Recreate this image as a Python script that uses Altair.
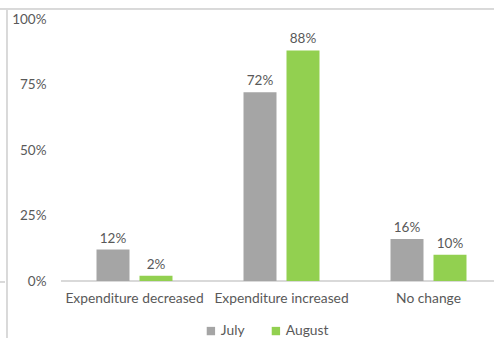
import altair as alt
import pandas as pd

categories = ["Expenditure decreased", "Expenditure increased", "No change"]
july = [0.12, 0.72, 0.16]
august = [0.02, 0.88, 0.10]
series = ["July", "August"]
colors = ["#a5a5a5", "#92d050"]

rows = []
for c, j, a in zip(categories, july, august):
    rows.append({"cat": c, "series": "July", "value": j})
    rows.append({"cat": c, "series": "August", "value": a})
df = pd.DataFrame(rows)

FONT = "Lato"
TXT = "#595959"

x = alt.X("cat:N", sort=categories, title=None,
          scale=alt.Scale(paddingInner=0, paddingOuter=0, range=[0, 441]),
          axis=alt.Axis(labelAngle=0, labelFontSize=13.8, labelColor=TXT, labelFont=FONT,
                        ticks=False, grid=False, domain=False,
                        labelPadding=10))
xo = alt.XOffset("series:N", sort=series,
                 scale=alt.Scale(paddingInner=0.2326, paddingOuter=0.8256))
y = alt.Y("value:Q", title=None,
          scale=alt.Scale(domain=[0, 1]),
          axis=alt.Axis(format=".0%", values=[0, 0.25, 0.5, 0.75, 1.0], grid=False,
                        domain=False, ticks=False, labelPadding=15,
                        labelFontSize=13.5, labelColor=TXT, labelFont=FONT))
color = alt.Color("series:N", sort=series,
                  scale=alt.Scale(domain=series, range=colors),
                  legend=alt.Legend(title=None, orient="none", direction="horizontal",
                                    legendX=143, legendY=305, symbolType="square",
                                    symbolSize=70, symbolStrokeWidth=0,
                                    labelFontSize=13.8, labelColor=TXT, labelFont=FONT,
                                    columnPadding=24, labelOffset=3))

base = alt.Chart(df)
bars = base.mark_bar().encode(x=x, xOffset=xo, y=y, color=color)
labels = base.mark_text(dy=-11, fontSize=13.5, color=TXT, font=FONT).encode(
    x=x, xOffset=xo, y=y, text=alt.Text("value:Q", format=".0%"))

baseline = alt.Chart(df).mark_rule(color="#d9d9d9", strokeWidth=1.5).encode(
    x=alt.value(0), x2=alt.value(441), y=alt.value(262))
frame_top = alt.Chart(df).mark_rule(color="#d9d9d9", strokeWidth=1).encode(
    x=alt.value(-61), x2=alt.value(441), y=alt.value(-10))
frame_left = alt.Chart(df).mark_rule(color="#d9d9d9", strokeWidth=1).encode(
    x=alt.value(-54), y=alt.value(-10), y2=alt.value(323))
frame_tick = alt.Chart(df).mark_rule(color="#d9d9d9", strokeWidth=1).encode(
    x=alt.value(-61), x2=alt.value(-56), y=alt.value(263))

chart = alt.layer(baseline, bars, labels, frame_top, frame_left, frame_tick).properties(
    width=433, height=262,
    background="white",
    autosize=alt.AutoSizeParams(type="none"),
    padding={"left": 61, "top": 19, "right": 0, "bottom": 57},
).configure_view(stroke="transparent", strokeWidth=0)

chart.save("out.html", embed_options={"renderer": "svg", "actions": False})
